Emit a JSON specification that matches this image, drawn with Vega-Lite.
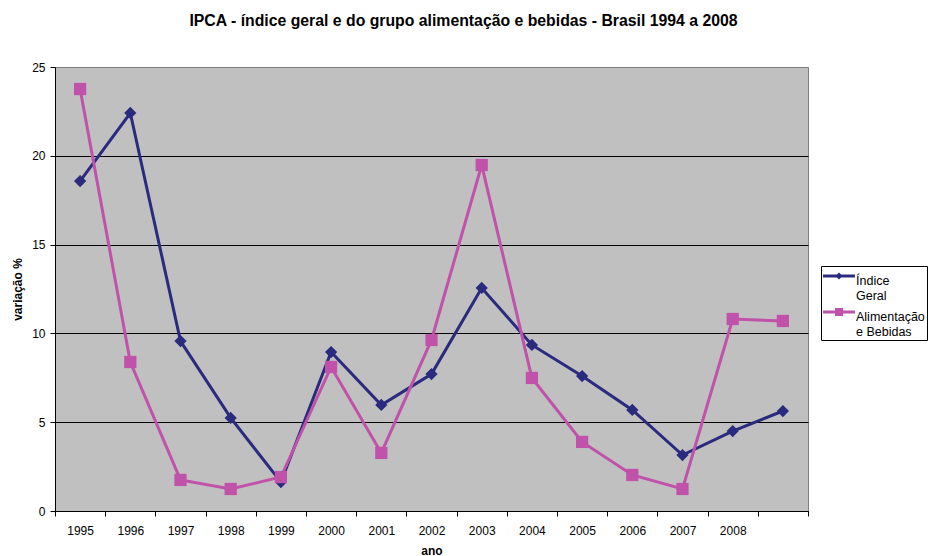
{
  "$schema": "https://vega.github.io/schema/vega-lite/v6.json",
  "width": 753,
  "height": 444,
  "autosize": {"type": "none"},
  "padding": {"left": 55, "top": 67, "right": 120, "bottom": 45},
  "background": "white",
  "config": {
    "font": "Liberation Sans",
    "view": {"fill": "#c0c0c0", "stroke": "#808080", "strokeWidth": 1}
  },
  "title": {
    "text": "IPCA - índice geral e do grupo alimentação e bebidas - Brasil 1994 a 2008",
    "font": "Liberation Sans",
    "fontSize": 15.8,
    "fontWeight": "bold",
    "color": "black",
    "anchor": "middle",
    "dx": 32,
    "offset": 31
  },
  "data": {
    "values": [
      {"ano": "1995", "serie": "Índice Geral", "valor": 18.58},
      {"ano": "1996", "serie": "Índice Geral", "valor": 22.41},
      {"ano": "1997", "serie": "Índice Geral", "valor": 9.57},
      {"ano": "1998", "serie": "Índice Geral", "valor": 5.24},
      {"ano": "1999", "serie": "Índice Geral", "valor": 1.63},
      {"ano": "2000", "serie": "Índice Geral", "valor": 8.95},
      {"ano": "2001", "serie": "Índice Geral", "valor": 5.97},
      {"ano": "2002", "serie": "Índice Geral", "valor": 7.71},
      {"ano": "2003", "serie": "Índice Geral", "valor": 12.56},
      {"ano": "2004", "serie": "Índice Geral", "valor": 9.35},
      {"ano": "2005", "serie": "Índice Geral", "valor": 7.60},
      {"ano": "2006", "serie": "Índice Geral", "valor": 5.69},
      {"ano": "2007", "serie": "Índice Geral", "valor": 3.15},
      {"ano": "2008", "serie": "Índice Geral", "valor": 4.50},
      {"ano": " ", "serie": "Índice Geral", "valor": 5.63},
      {"ano": "1995", "serie": "Alimentação e Bebidas", "valor": 23.76},
      {"ano": "1996", "serie": "Alimentação e Bebidas", "valor": 8.39},
      {"ano": "1997", "serie": "Alimentação e Bebidas", "valor": 1.75},
      {"ano": "1998", "serie": "Alimentação e Bebidas", "valor": 1.24},
      {"ano": "1999", "serie": "Alimentação e Bebidas", "valor": 1.91},
      {"ano": "2000", "serie": "Alimentação e Bebidas", "valor": 8.11},
      {"ano": "2001", "serie": "Alimentação e Bebidas", "valor": 3.27},
      {"ano": "2002", "serie": "Alimentação e Bebidas", "valor": 9.63},
      {"ano": "2003", "serie": "Alimentação e Bebidas", "valor": 19.48},
      {"ano": "2004", "serie": "Alimentação e Bebidas", "valor": 7.49},
      {"ano": "2005", "serie": "Alimentação e Bebidas", "valor": 3.89},
      {"ano": "2006", "serie": "Alimentação e Bebidas", "valor": 2.03},
      {"ano": "2007", "serie": "Alimentação e Bebidas", "valor": 1.24},
      {"ano": "2008", "serie": "Alimentação e Bebidas", "valor": 10.81},
      {"ano": " ", "serie": "Alimentação e Bebidas", "valor": 10.70}
    ]
  },
  "encoding": {
    "x": {
      "field": "ano",
      "type": "ordinal",
      "sort": null,
      "bandPosition": 0.5,
      "scale": {"type": "band", "paddingInner": 0, "paddingOuter": 0},
      "axis": {
        "title": "ano",
        "titleFontWeight": "bold",
        "titleFontSize": 12,
        "titleColor": "black",
        "titlePadding": 9,
        "labelAngle": 0,
        "labelFontSize": 12,
        "labelColor": "black",
        "labelPadding": 9,
        "tickBand": "extent",
        "tickColor": "black",
        "tickSize": 5,
        "domainColor": "black",
        "grid": false
      }
    },
    "y": {
      "field": "valor",
      "type": "quantitative",
      "scale": {"domain": [0, 25], "nice": false},
      "axis": {
        "title": "variação %",
        "titleFontWeight": "bold",
        "titleFontSize": 12,
        "titleColor": "black",
        "titlePadding": 7,
        "values": [0, 5, 10, 15, 20, 25],
        "labelFontSize": 12,
        "labelColor": "black",
        "labelPadding": 5,
        "tickColor": "black",
        "tickSize": 5,
        "domainColor": "black",
        "grid": true,
        "gridColor": {"condition": {"test": "datum.value == 25", "value": "#808080"}, "value": "black"},
        "gridOpacity": 1
      }
    },
    "color": {
      "field": "serie",
      "type": "nominal",
      "scale": {
        "domain": ["Índice Geral", "Alimentação e Bebidas"],
        "range": ["#2a2a7f", "#c052aa"]
      },
      "legend": {
        "orient": "none",
        "legendX": 766,
        "legendY": 199,
        "title": null,
        "fillColor": "white",
        "strokeColor": "black",
        "padding": 2,
        "rowPadding": 2,
        "labelFontSize": 12.5,
        "labelColor": "black",
        "labelOffset": 17,
        "labelLimit": 200,
        "labelBaseline": "top",
        "symbolSize": 256,
        "symbolStrokeWidth": 0,
        "labelExpr": "datum.label == 'Índice Geral' ? ['Índice', 'Geral'] : ['Alimentação', ' e Bebidas']",
        "encode": {
          "symbols": {
            "update": {
              "shape": {"signal": "datum.value == 'Índice Geral' ? 'M-1,-0.19L3,-0.19L3,0.19L-1,0.19Z M1,-0.45L1.45,0L1,0.45L0.55,0Z' : 'M-1,-0.19L3,-0.19L3,0.19L-1,0.19Z M0.5,-0.5L1.5,-0.5L1.5,0.5L0.5,0.5Z'"},
              "fill": {"signal": "scale('color', datum.value)"},
              "fillOpacity": {"value": 1},
              "opacity": {"value": 1},
              "strokeWidth": {"value": 0}
            }
          },
          "labels": {"update": {"dy": {"value": -1}}}
        }
      }
    }
  },
  "layer": [
    {"mark": {"type": "line", "strokeWidth": 3}},
    {
      "mark": {"type": "point", "filled": true, "opacity": 1},
      "encoding": {
        "shape": {"condition": {"test": "datum.serie == 'Índice Geral'", "value": "diamond"}, "value": "square"},
        "size": {"value": 150}
      }
    }
  ]
}
